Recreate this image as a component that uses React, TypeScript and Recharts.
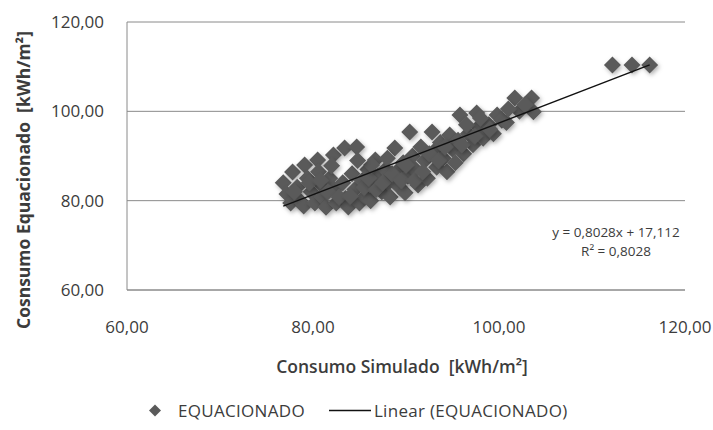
import React from "react";
import {
  ScatterChart,
  Scatter,
  XAxis,
  YAxis,
  CartesianGrid,
} from "recharts";

// Consumo Simulado (x) vs Consumo Equacionado (y), kWh/m²
const simulado: number[] = [
  76.8, 77.2, 77.6, 77.8, 78.3, 78.6, 79.0, 79.1, 79.4, 79.8, 80.2, 80.5, 80.6, 80.9, 81.0, 81.4,
  81.8, 82.2, 82.3, 82.5, 82.0, 83.2, 83.4, 83.5, 83.8, 84.2, 84.5, 84.7, 85.0, 85.3, 85.6, 85.9,
  86.2, 86.5, 86.7, 87.0, 87.4, 87.8, 88.1, 88.3, 88.8, 89.0, 89.3, 89.7, 89.9, 90.2, 90.4, 90.7,
  91.0, 91.3, 91.6, 92.0, 92.3, 92.8, 93.0, 93.3, 93.7, 94.0, 94.4, 94.7, 95.0, 95.8, 95.6, 96.2,
  96.7, 97.2, 97.6, 97.8, 98.3, 98.9, 99.4, 99.8, 100.3, 101.7, 102.2, 103.5, 103.7, 112.2, 114.3,
  116.2,
  // denser middle of the cloud
  78.0, 79.6, 80.8, 81.6, 82.8, 84.0, 85.5, 86.0, 86.8, 87.5, 88.5, 89.5, 90.0, 90.9, 91.8, 92.5,
  93.5, 94.2, 95.3, 96.0, 96.5, 97.4, 98.0, 99.0, 100.8, 101.0, 102.8, 86.3, 88.0, 84.8,
];
const equacionado: number[] = [
  84.0, 81.5, 79.5, 86.4, 83.0, 80.0, 78.8, 88.0, 85.0, 82.0, 79.5, 89.1, 86.5, 83.5, 80.8, 78.5,
  85.0, 90.2, 82.5, 79.5, 87.8, 84.0, 91.8, 80.5, 78.6, 86.0, 82.5, 92.0, 79.5, 84.5, 81.0, 87.0,
  80.0, 83.0, 89.1, 85.5, 82.0, 87.0, 84.0, 80.8, 91.8, 86.5, 83.0, 88.5, 81.8, 85.5, 95.4, 90.0,
  87.0, 83.5, 92.0, 89.0, 85.0, 95.4, 91.0, 87.5, 93.0, 89.5, 86.5, 94.7, 91.5, 99.2, 93.5, 90.5,
  95.0, 92.5, 99.6, 96.5, 94.0, 97.0, 95.0, 99.2, 98.0, 103.0, 100.0, 103.0, 99.9, 110.4, 110.4,
  110.4,
  82.0, 84.0, 84.5, 82.0, 80.8, 81.0, 83.0, 85.0, 82.5, 84.0, 86.0, 84.5, 88.0, 84.5, 86.5, 90.5,
  89.0, 92.0, 88.5, 92.5, 97.0, 94.5, 98.5, 96.0, 97.5, 100.5, 101.5, 88.0, 89.5, 89.0,
];

// linear trend shown on the chart
const slope = 0.8028;
const intercept = 17.112;
const ticks = [60, 80, 100, 120];

const points = simulado.map((x, i) => ({ x, y: equacionado[i] }));
const xMin = Math.min(...simulado);
const xMax = Math.max(...simulado);
const trend = [
  { x: xMin, y: slope * xMin + intercept },
  { x: xMax, y: slope * xMax + intercept },
];

const fmt = (v: number) => v.toFixed(2).replace(".", ",");
const FONT = "'Open Sans', sans-serif";
const TXT = "#3c3c3c";
const AXIS = "#8a8a8a";

const Diamond = (props: any) => {
  const { cx, cy } = props;
  const r = 8.5;
  return (
    <polygon
      points={`${cx},${cy - r} ${cx + r},${cy} ${cx},${cy + r} ${cx - r},${cy}`}
      fill="#5a5a5a"
      filter="url(#shadow)"
    />
  );
};

export default function App() {
  return (
    <div
      style={{
        position: "absolute",
        left: 0,
        top: 0,
        width: 713,
        height: 430,
        background: "#fff",
        fontFamily: FONT,
        color: TXT,
      }}
    >
      <ScatterChart
        width={713}
        height={430}
        margin={{ top: 22, right: 28, bottom: 100, left: 0 }}
      >
        <defs>
          <filter id="shadow" x="-50%" y="-50%" width="200%" height="200%">
            <feDropShadow dx="1.5" dy="2" stdDeviation="2" floodColor="#000" floodOpacity="0.3" />
          </filter>
        </defs>
        <CartesianGrid vertical={false} stroke={AXIS} strokeWidth={1} />
        <XAxis
          type="number"
          dataKey="x"
          domain={[60, 120]}
          ticks={ticks}
          tickFormatter={fmt}
          height={40}
          tickLine={false}
          tickMargin={25}
          axisLine={{ stroke: AXIS }}
          tick={{ fontSize: 17, fill: TXT, fontFamily: FONT }}
        />
        <YAxis
          type="number"
          dataKey="y"
          domain={[60, 120]}
          ticks={ticks}
          tickFormatter={fmt}
          width={127}
          tickLine={false}
          tickMargin={17}
          axisLine={{ stroke: AXIS }}
          tick={{ fontSize: 17, fill: TXT, fontFamily: FONT }}
        />
        <Scatter
          name="EQUACIONADO"
          data={points}
          shape={Diamond}
          isAnimationActive={false}
        />
        <Scatter
          name="Linear (EQUACIONADO)"
          data={trend}
          line={{ stroke: "#111", strokeWidth: 1.4 }}
          shape={() => null}
          isAnimationActive={false}
        />
      </ScatterChart>

      <div
        style={{
          position: "absolute",
          left: 23,
          top: 180,
          transform: "translate(-50%, -50%) rotate(-90deg)",
          whiteSpace: "nowrap",
          fontWeight: 700,
          fontSize: 17.5,
        }}
      >
        Cosnsumo Equacionado&nbsp;&nbsp;[kWh/m²]
      </div>

      <div
        style={{
          position: "absolute",
          left: 402,
          top: 366,
          transform: "translate(-50%, -50%)",
          whiteSpace: "nowrap",
          fontWeight: 600,
          fontSize: 17.5,
        }}
      >
        Consumo Simulado&nbsp;&nbsp;[kWh/m²]
      </div>

      <div
        style={{
          position: "absolute",
          left: 616,
          top: 242,
          transform: "translate(-50%, -50%)",
          whiteSpace: "nowrap",
          fontSize: 13.5,
          textAlign: "center",
          lineHeight: "19px",
        }}
      >
        y = 0,8028x + 17,112
        <br />
        R² = 0,8028
      </div>

      <div
        style={{
          position: "absolute",
          left: 148,
          top: 410,
          transform: "translateY(-50%)",
          display: "flex",
          alignItems: "center",
          fontSize: 17,
          letterSpacing: 0.3,
          whiteSpace: "nowrap",
        }}
      >
        <svg width={14} height={14} style={{ marginRight: 16 }}>
          <polygon points="7,1 13,7 7,13 1,7" fill="#5a5a5a" />
        </svg>
        <span style={{ marginRight: 24 }}>EQUACIONADO</span>
        <svg width={42} height={4} style={{ marginRight: 3 }}>
          <line x1={0} y1={2} x2={42} y2={2} stroke="#111" strokeWidth={1.4} />
        </svg>
        <span>Linear (EQUACIONADO)</span>
      </div>
    </div>
  );
}
